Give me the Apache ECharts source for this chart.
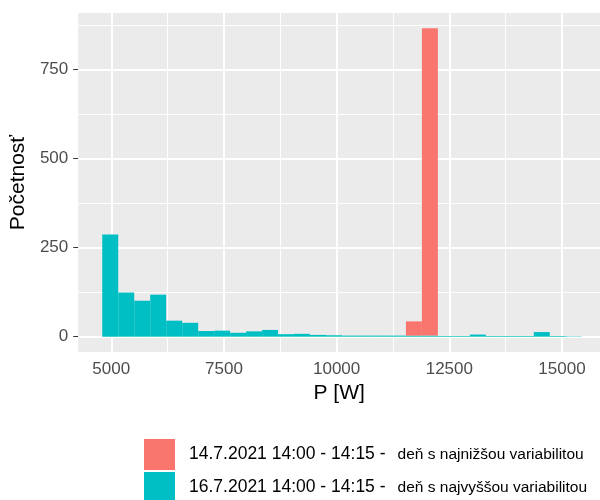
<!DOCTYPE html>
<html>
<head>
<meta charset="utf-8">
<script src="https://cdn.jsdelivr.net/npm/echarts@6/dist/echarts.min.js"></script>
<style>
  html, body { margin: 0; padding: 0; background: #fff; }
  #chart { width: 600px; height: 500px; }
</style>
</head>
<body>
<div id="chart"></div>
<script>
// histogram bins (W)
const binStart = 4800;
const binWidth = 354.6;
const countHigh = [287, 124, 101, 118, 45, 39, 16, 17, 11, 15, 19, 7, 8, 5, 4,
                   3, 3, 3, 3, 3, 3, 2, 2, 6, 2, 2, 2, 13, 2, 1];
const countLow  = [0, 0, 0, 0, 0, 0, 0, 0, 0, 0, 0, 0, 0, 0, 0,
                   0, 0, 0, 0, 40, 863, 0, 0, 0, 0, 0, 0, 0, 0, 0];

const xTicks = [5000, 7500, 10000, 12500, 15000];
const xMinor = [6250, 8750, 11250, 13750];
const yTicks = [0, 250, 500, 750];
const yMinor = [125, 375, 625, 875];

const legendDates = ['14.7.2021 14:00 - 14:15 -', '16.7.2021 14:00 - 14:15 -'];
const legendNotes = ['deň s najnižšou variabilitou', 'deň s najvyššou variabilitou'];
const seriesNames = legendDates.map((d, i) => d + ' ' + legendNotes[i]);

const RED = '#F8766D';
const TEAL = '#00BFC4';

// stacked: teal at the bottom, red above
const tealData = countHigh.map((c, i) => [binStart + i * binWidth, binStart + (i + 1) * binWidth, 0, c]);
const redData = countLow.map((c, i) => [binStart + i * binWidth, binStart + (i + 1) * binWidth, countHigh[i], countHigh[i] + c]);

const chart = echarts.init(document.getElementById('chart'));

const renderBar = (params, api) => {
  const p0 = api.coord([api.value(0), api.value(2)]);
  const p1 = api.coord([api.value(1), api.value(3)]);
  return {
    type: 'rect',
    shape: { x: p0[0], y: p1[1], width: p1[0] - p0[0], height: p0[1] - p1[1] },
    style: { fill: api.visual('color') }
  };
};

const gridLines = [
  ...xTicks.map(v => ({ xAxis: v, lineStyle: { width: 2 } })),
  ...xMinor.map(v => ({ xAxis: v, lineStyle: { width: 1 } })),
  ...yTicks.map(v => ({ yAxis: v, lineStyle: { width: 2 } })),
  ...yMinor.map(v => ({ yAxis: v, lineStyle: { width: 1 } }))
];

const option = {
  animation: false,
  grid: {
    left: 78,
    right: 0,
    top: 13,
    bottom: 148,
    show: true,
    backgroundColor: '#EBEBEB',
    borderWidth: 0
  },
  xAxis: {
    type: 'value',
    min: 4268,
    max: 15843,
    name: 'P [W]',
    nameLocation: 'middle',
    nameGap: 31,
    nameTextStyle: { color: '#000', fontSize: 21, fontFamily: 'Liberation Sans' },
    axisLine: { show: false },
    axisTick: { show: true, length: 5, customValues: xTicks, lineStyle: { color: '#333' } },
    axisLabel: {
      customValues: xTicks, margin: 9, color: '#4D4D4D', fontSize: 17, fontFamily: 'Liberation Sans',
      formatter: v => String(v)
    },
    splitLine: { show: false }
  },
  yAxis: {
    type: 'value',
    min: -43,
    max: 909,
    name: 'Početnosť',
    nameLocation: 'middle',
    nameRotate: 90,
    nameGap: 43,
    nameTextStyle: { color: '#000', fontSize: 21, fontFamily: 'Liberation Sans' },
    axisLine: { show: false },
    axisTick: { show: true, length: 5, customValues: yTicks, lineStyle: { color: '#333' } },
    axisLabel: {
      customValues: yTicks, margin: 10, color: '#4D4D4D', fontSize: 17, fontFamily: 'Liberation Sans',
      formatter: v => String(v)
    },
    splitLine: { show: false }
  },
  legend: {
    orient: 'vertical',
    left: 144,
    top: 439,
    height: 100,
    padding: 0,
    itemGap: 2,
    itemWidth: 31,
    itemHeight: 31,
    icon: 'rect',
    data: seriesNames,
    formatter: name => {
      const i = seriesNames.indexOf(name);
      return '{a|' + legendDates[i] + '}{b|' + legendNotes[i] + '}';
    },
    textStyle: {
      padding: [0, 0, 0, 9],
      rich: {
        a: { fontSize: 17.5, color: '#000', fontFamily: 'Liberation Sans' },
        b: { fontSize: 15.5, color: '#000', fontFamily: 'Liberation Sans', padding: [0, 0, 0, 12] }
      }
    }
  },
  series: [
    {
      type: 'line',
      data: [],
      silent: true,
      z: 1,
      markLine: {
        z: 1,
        silent: true,
        symbol: 'none',
        label: { show: false },
        lineStyle: { color: '#fff', type: 'solid' },
        data: gridLines
      }
    },
    {
      name: seriesNames[1],
      type: 'custom',
      z: 3,
      renderItem: renderBar,
      itemStyle: { color: TEAL },
      encode: { x: [0, 1], y: [2, 3] },
      data: tealData
    },
    {
      name: seriesNames[0],
      type: 'custom',
      z: 3,
      renderItem: renderBar,
      itemStyle: { color: RED },
      encode: { x: [0, 1], y: [2, 3] },
      data: redData
    }
  ]
};

chart.setOption(option);
</script>
</body>
</html>
